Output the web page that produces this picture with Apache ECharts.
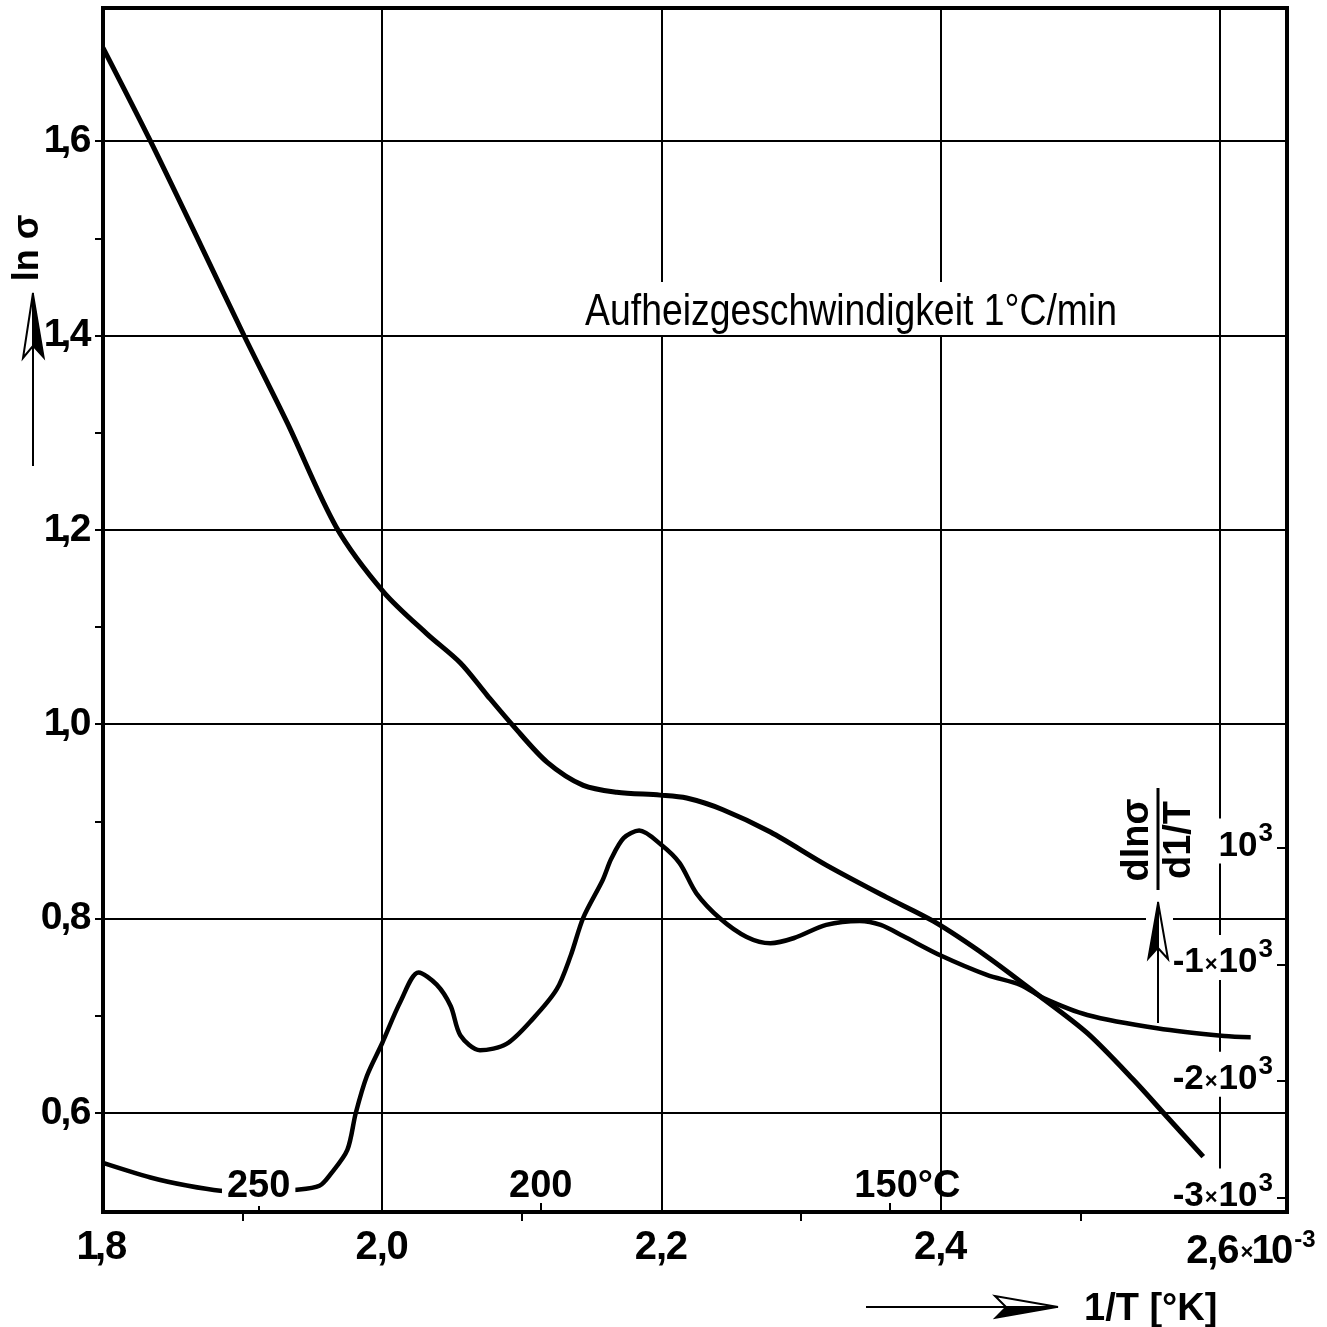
<!DOCTYPE html>
<html>
<head>
<meta charset="utf-8">
<script src="https://cdn.jsdelivr.net/npm/echarts@6/dist/echarts.min.js"></script>
<style>
  html, body { margin: 0; padding: 0; background: #fff; }
  #chart { width: 1327px; height: 1327px; }
</style>
</head>
<body>
<div id="chart"></div>
<script>
// ln(sigma) against 1/T (in 10^-3 K^-1)
const invT = [1.800, 1.834, 1.870, 1.901, 1.932, 1.967, 2.001, 2.032, 2.056, 2.075, 2.094, 2.118,
              2.144, 2.168, 2.199, 2.218, 2.244, 2.278, 2.318, 2.361, 2.395, 2.433, 2.471, 2.505,
              2.538, 2.562, 2.588];
const lnSigma = [1.696, 1.600, 1.493, 1.400, 1.310, 1.203, 1.136, 1.093, 1.063, 1.030, 0.998, 0.961,
                 0.937, 0.930, 0.927, 0.924, 0.912, 0.889, 0.855, 0.822, 0.797, 0.761, 0.720, 0.682,
                 0.634, 0.596, 0.555];

// d ln(sigma) / d(1/T), plotted on the right-hand scale
const invTDeriv = [1.800, 1.834, 1.860, 1.884, 1.910, 1.939, 1.955, 1.963, 1.975, 1.981, 1.989, 2.000,
                   2.013, 2.026, 2.039, 2.049, 2.056, 2.070, 2.089, 2.108, 2.125, 2.135, 2.144, 2.158,
                   2.164, 2.173, 2.184, 2.200, 2.213, 2.225, 2.242, 2.261, 2.278, 2.295, 2.318, 2.342,
                   2.357, 2.373, 2.400, 2.433, 2.457, 2.474, 2.505, 2.555, 2.603, 2.622];
const dLnSigma = [-2700, -2825, -2894, -2938, -2946, -2930, -2896, -2796, -2588, -2274, -1955, -1672,
                  -1319, -1068, -1172, -1355, -1607, -1734, -1680, -1463, -1211, -922, -597, -272,
                  -93, 86, 149, 25, -130, -389, -605, -763, -817, -772, -660, -626,
                  -660, -755, -922, -1088, -1174, -1290, -1432, -1546, -1612, -1622];

// axis ticks and labels
const xTickValues = [1.8, 2.0, 2.2, 2.4, 2.6];
const xTickLabels = ['1,8', '2,0', '2,2', '2,4', '2,6'];
const xMinorTicks = [1.9, 2.1, 2.3, 2.5];
const yTickValues = [0.6, 0.8, 1.0, 1.2, 1.4, 1.6];
const yTickLabels = ['0,6', '0,8', '1,0', '1,2', '1,4', '1,6'];
const yMinorTicks = [0.7, 0.9, 1.1, 1.3, 1.5];
const tempC = [250, 200, 150];
const tempLabels = ['250', '200', '150°C'];
const dTickValues = [0, -1000, -2000, -3000];
const dTickLabels = ['10', '-1×10', '-2×10', '-3×10'];
const dTickExp = '3';

const FONT = '"Liberation Sans", Arial, sans-serif';

const X_MIN = 1.8, X_MAX = 2.648;
const Y_MIN = 0.498, Y_MAX = 1.737;
const D_MIN = -3121, D_MAX = 7201;

// plot frame (grid) placement
const G_LEFT = 103, G_TOP = 8, G_RIGHT = 40, G_BOTTOM = 115;
const W = 1327, H = 1327;

const tempPos = tempC.map(t => 1000 / (t + 273.15));
const lnSeries = invT.map((x, i) => [x, lnSigma[i]]);
const dSeries = invTDeriv.map((x, i) => [x, dLnSigma[i]]);

function idxOf(arr, v) {
  let best = 0, bd = Infinity;
  arr.forEach((a, i) => { const d = Math.abs(a - v); if (d < bd) { bd = d; best = i; } });
  return best;
}

// set a number label glyph by glyph so that "1" and "," stay narrow
function tightNumber(s) {
  return s.split('').map(ch => ch === '1' ? '{one|1}' : ch === ',' ? '{c|,}' : '{d|' + ch + '}').join('');
}

const chart = echarts.init(document.getElementById('chart'), null, { renderer: 'canvas' });

const tickStyle = { color: '#000', width: 2 };
const numStyle = { fontFamily: FONT, fontWeight: 'bold', color: '#000' };

const option = {
  animation: false,
  backgroundColor: '#fff',
  grid: {
    left: G_LEFT, right: G_RIGHT, top: G_TOP, bottom: G_BOTTOM,
    show: true, borderColor: '#000', borderWidth: 4, backgroundColor: 'transparent'
  },
  xAxis: [
    {
      type: 'value', position: 'bottom', min: X_MIN, max: X_MAX, interval: 0.2,
      axisLine: { show: false },
      axisTick: { show: true, customValues: xTickValues, length: 10, lineStyle: tickStyle },
      splitLine: { show: true, lineStyle: { color: '#000', width: 2 } },
      axisLabel: {
        customValues: xTickValues,
        margin: 16,
        color: '#000',
        fontFamily: FONT,
        formatter: v => {
          const i = idxOf(xTickValues, v);
          if (i === xTickValues.length - 1) {
            return '{pad| }' + tightNumber(xTickLabels[i]) + '{x|×}' + tightNumber('10') + '{e|-3}';
          }
          return tightNumber(xTickLabels[i]);
        },
        rich: {
          pad: { width: 62, fontSize: 40, verticalAlign: 'bottom' },
          one: Object.assign({ fontSize: 40, width: 17, align: 'center', verticalAlign: 'bottom' }, numStyle),
          c: Object.assign({ fontSize: 40, width: 9, align: 'center', verticalAlign: 'bottom' }, numStyle),
          d: Object.assign({ fontSize: 40, width: 22, align: 'center', verticalAlign: 'bottom' }, numStyle),
          x: Object.assign({ fontSize: 22, verticalAlign: 'bottom', padding: [0, 1, 8, 1] }, numStyle),
          e: Object.assign({ fontSize: 24, verticalAlign: 'bottom', padding: [0, 0, 20, 1] }, numStyle)
        }
      }
    },
    {
      // minor ticks below the axis
      type: 'value', position: 'bottom', min: X_MIN, max: X_MAX,
      axisLine: { show: false },
      splitLine: { show: false },
      axisLabel: { show: false },
      axisTick: { show: true, customValues: xMinorTicks, length: 9, lineStyle: tickStyle }
    },
    {
      // Celsius marks along the inside of the axis
      type: 'value', position: 'bottom', min: X_MIN, max: X_MAX, z: 5,
      axisLine: { show: false },
      splitLine: { show: false },
      axisTick: { show: true, inside: true, customValues: tempPos, length: 9, lineStyle: tickStyle },
      axisLabel: {
        inside: true,
        customValues: tempPos,
        margin: 8,
        color: '#000',
        formatter: v => {
          const i = idxOf(tempPos, v);
          if (i === 0) return '{w|' + tempLabels[i] + '}';
          if (i === tempLabels.length - 1) return '{pad| }{t|' + tempLabels[i] + '}';
          return '{t|' + tempLabels[i] + '}';
        },
        rich: {
          w: Object.assign({ fontSize: 38, backgroundColor: '#fff', padding: [0, 5, 0, 5], lineHeight: 34 }, numStyle),
          t: Object.assign({ fontSize: 38, lineHeight: 34 }, numStyle),
          pad: { width: 36, fontSize: 38, lineHeight: 34 }
        }
      }
    }
  ],
  yAxis: [
    {
      type: 'value', position: 'left', min: Y_MIN, max: Y_MAX,
      axisLine: { show: false },
      axisTick: { show: true, customValues: yTickValues, length: 8, lineStyle: tickStyle },
      splitLine: { show: true, lineStyle: { color: '#000', width: 2 } },
      axisLabel: {
        customValues: yTickValues,
        margin: 12,
        color: '#000',
        formatter: v => tightNumber(yTickLabels[idxOf(yTickValues, v)]),
        rich: {
          one: Object.assign({ fontSize: 39, width: 15, align: 'center' }, numStyle),
          c: Object.assign({ fontSize: 39, width: 8, align: 'center' }, numStyle),
          d: Object.assign({ fontSize: 39, width: 21, align: 'center' }, numStyle)
        }
      }
    },
    {
      // minor ticks on the left
      type: 'value', position: 'left', min: Y_MIN, max: Y_MAX,
      axisLine: { show: false },
      splitLine: { show: false },
      axisLabel: { show: false },
      axisTick: { show: true, customValues: yMinorTicks, length: 8, lineStyle: tickStyle }
    },
    {
      // right-hand scale for the derivative
      type: 'value', position: 'right', min: D_MIN, max: D_MAX, z: 3,
      axisLine: { show: false },
      splitLine: { show: false },
      axisTick: { show: true, inside: true, customValues: dTickValues, length: 10, lineStyle: tickStyle },
      axisLabel: {
        inside: true,
        customValues: dTickValues,
        margin: 14,
        color: '#000',
        formatter: v => {
          const s = dTickLabels[idxOf(dTickValues, v)];
          const parts = s.split('×');
          if (parts.length === 2) {
            return '{b|' + parts[0] + '}{x|×}{b|' + parts[1] + '}{e|' + dTickExp + '}';
          }
          return '{b|' + s + '}{e|' + dTickExp + '}';
        },
        rich: {
          b: Object.assign({ fontSize: 35, lineHeight: 31, verticalAlign: 'bottom', backgroundColor: '#fff', padding: [10, 0, 0, 0] }, numStyle),
          x: Object.assign({ fontSize: 22, lineHeight: 22, verticalAlign: 'bottom', backgroundColor: '#fff', padding: [19, 1, 4, 1] }, numStyle),
          e: Object.assign({ fontSize: 26, lineHeight: 24, verticalAlign: 'bottom', backgroundColor: '#fff', padding: [0, 0, 17, 1] }, numStyle)
        }
      }
    }
  ],
  series: [
    {
      name: 'ln σ',
      type: 'line',
      xAxisIndex: 0, yAxisIndex: 0,
      data: lnSeries,
      showSymbol: false,
      smooth: 0.3,
      lineStyle: { color: '#000', width: 5 },
      z: 2
    },
    {
      name: 'dlnσ/d(1/T)',
      type: 'line',
      xAxisIndex: 0, yAxisIndex: 2,
      data: dSeries,
      showSymbol: false,
      smooth: 0.3,
      lineStyle: { color: '#000', width: 4.5 },
      z: 2
    }
  ],
  graphic: [
    // plot frame drawn on top so labels never cut it
    {
      type: 'rect', z: 50,
      shape: { x: G_LEFT, y: G_TOP, width: W - G_LEFT - G_RIGHT, height: H - G_TOP - G_BOTTOM },
      style: { fill: null, stroke: '#000', lineWidth: 4 }
    },
    // heating-rate note, underlined by the 1.4 grid line
    {
      type: 'text', z: 10,
      x: 851, y: 335, scaleX: 0.83,
      style: {
        text: 'Aufheizgeschwindigkeit 1°C/min',
        font: '45px ' + FONT,
        fill: '#000',
        align: 'center',
        verticalAlign: 'bottom',
        backgroundColor: '#fff',
        padding: [8, 4, 0, 4]
      }
    },
    // y-axis name with arrow
    {
      type: 'text', z: 10,
      x: 28, y: 248, rotation: Math.PI / 2,
      style: { text: 'ln σ', font: 'bold 36px ' + FONT, fill: '#000', align: 'center', verticalAlign: 'middle' }
    },
    { type: 'line', z: 10, shape: { x1: 33, y1: 346, x2: 33, y2: 466 }, style: { stroke: '#000', lineWidth: 2 } },
    { type: 'polygon', z: 10, shape: { points: [[33, 293], [44, 358], [33, 346]] }, style: { fill: '#000', stroke: '#000', lineWidth: 1.5 } },
    { type: 'polygon', z: 10, shape: { points: [[33, 293], [23, 358], [33, 346]] }, style: { fill: '#fff', stroke: '#000', lineWidth: 2 } },
    // x-axis name with arrow
    { type: 'line', z: 10, shape: { x1: 866, y1: 1307, x2: 1006, y2: 1307 }, style: { stroke: '#000', lineWidth: 2 } },
    { type: 'polygon', z: 10, shape: { points: [[1058, 1307], [995, 1296], [1006, 1307]] }, style: { fill: '#fff', stroke: '#000', lineWidth: 2 } },
    { type: 'polygon', z: 10, shape: { points: [[1058, 1307], [995, 1318], [1006, 1307]] }, style: { fill: '#000', stroke: '#000', lineWidth: 1.5 } },
    {
      type: 'text', z: 10,
      x: 1084, y: 1310,
      style: { text: '1/T [°K]', font: 'bold 38px ' + FONT, fill: '#000', align: 'left', verticalAlign: 'middle' }
    },
    // right-hand scale name: d ln(sigma) / d(1/T), with arrow
    { type: 'rect', z: 9, shape: { x: 1146, y: 911, width: 27, height: 14 }, style: { fill: '#fff' } },
    { type: 'line', z: 10, shape: { x1: 1158, y1: 948, x2: 1158, y2: 1023 }, style: { stroke: '#000', lineWidth: 2 } },
    { type: 'polygon', z: 10, shape: { points: [[1158, 902], [1148, 959], [1158, 948]] }, style: { fill: '#000', stroke: '#000', lineWidth: 1.5 } },
    { type: 'polygon', z: 10, shape: { points: [[1158, 902], [1168, 959], [1158, 948]] }, style: { fill: '#fff', stroke: '#000', lineWidth: 2 } },
    { type: 'line', z: 10, shape: { x1: 1158, y1: 788, x2: 1158, y2: 890 }, style: { stroke: '#000', lineWidth: 3 } },
    {
      type: 'text', z: 10,
      x: 1138, y: 840, rotation: Math.PI / 2,
      style: { text: 'dlnσ', font: 'bold 38px ' + FONT, fill: '#000', align: 'center', verticalAlign: 'middle' }
    },
    {
      type: 'text', z: 10,
      x: 1180, y: 840, rotation: Math.PI / 2,
      style: { text: 'd1/T', font: 'bold 38px ' + FONT, fill: '#000', align: 'center', verticalAlign: 'middle' }
    }
  ]
};

chart.setOption(option);
</script>
</body>
</html>
